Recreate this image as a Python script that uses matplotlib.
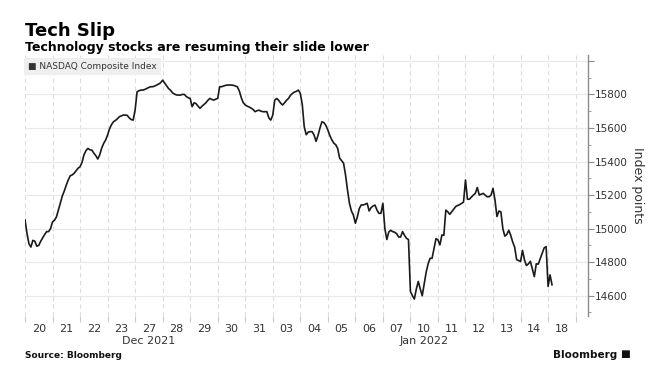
import numpy as np
import matplotlib.pyplot as plt
from matplotlib.ticker import FixedLocator, MultipleLocator, NullFormatter

# trading sessions shown on the axis
day_labels = ["20", "21", "22", "23", "27", "28", "29", "30", "31",
              "03", "04", "05", "06", "07", "10", "11", "12", "13", "14", "18"]
month_labels = ["Dec 2021", "Jan 2022"]
month_mid_day = [4, 14]          # session index the month label sits under
bars_per_session = 14           # 30-min bars, 9:30 .. 16:00

# NASDAQ Composite, 30-min bars, one row per session (last one partial)
nasdaq = [
    15052, 14972, 14910, 14890, 14930, 14925, 14895, 14900, 14925, 14945, 14965, 14982, 14982, 15000,
    15040, 15050, 15070, 15111, 15150, 15195, 15225, 15260, 15290, 15315, 15320, 15330, 15345, 15360,
    15369, 15395, 15440, 15465, 15478, 15470, 15468, 15450, 15435, 15415, 15440, 15480, 15508, 15528,
    15558, 15595, 15620, 15637, 15645, 15655, 15667, 15672, 15677, 15677, 15675, 15660, 15650, 15647,
    15707, 15816, 15822, 15826, 15826, 15830, 15836, 15842, 15846, 15846, 15850, 15856, 15862, 15870,
    15885, 15868, 15850, 15835, 15825, 15810, 15802, 15797, 15796, 15796, 15800, 15800, 15788, 15780,
    15776, 15727, 15750, 15745, 15730, 15717, 15730, 15740, 15750, 15765, 15776, 15770, 15766, 15772,
    15776, 15846, 15846, 15850, 15854, 15856, 15856, 15856, 15854, 15850, 15845, 15820, 15780, 15750,
    15737, 15730, 15725, 15718, 15710, 15697, 15703, 15706, 15700, 15697, 15697, 15697, 15660, 15647,
    15677, 15766, 15776, 15765, 15748, 15737, 15750, 15765, 15776, 15795, 15806, 15814, 15818, 15826,
    15806, 15740, 15607, 15560, 15575, 15578, 15578, 15558, 15520, 15555, 15600, 15637, 15632, 15615,
    15588, 15555, 15530, 15510, 15500, 15478, 15420, 15405, 15390, 15320, 15230, 15150, 15105, 15080,
    15032, 15070, 15120, 15141, 15141, 15145, 15151, 15105, 15125, 15135, 15140, 15110, 15091, 15091,
    15151, 15000, 14935, 14980, 14990, 14982, 14978, 14970, 14950, 14950, 14982, 14960, 14942, 14935,
    14625, 14600, 14580, 14640, 14685, 14640, 14600, 14670, 14740, 14790, 14823, 14823, 14880, 14940,
    14933, 14903, 14962, 14960, 15110, 15100, 15085, 15100, 15115, 15131, 15138, 15143, 15150, 15158,
    15290, 15175, 15175, 15188, 15200, 15210, 15245, 15200, 15205, 15210, 15200, 15190, 15190, 15200,
    15240, 15170, 15072, 15105, 15100, 15000, 14955, 14965, 14990, 14960, 14920, 14890, 14815, 14810,
    14804, 14870, 14813, 14780, 14790, 14805, 14760, 14714, 14790, 14788, 14820, 14853, 14885, 14893,
    14655, 14724, 14665,
]

y_ticks = [14600, 14800, 15000, 15200, 15400, 15600, 15800, 16000]

grid_col = "#e8e8e8"
axis_col = "#8c8c8c"
text_col = "#333333"

x = np.arange(len(nasdaq)) / bars_per_session

fig = plt.figure(figsize=(6.56, 3.74), dpi=100)
ax = fig.add_axes([25 / 656, 1 - 316 / 374, (588 - 25) / 656, (316 - 55) / 374])

ax.plot(x, nasdaq, color="#1a1a1a", lw=1.2, zorder=3)

ax.set_xlim(0, len(day_labels) + 0.45)
ax.set_ylim(14479, 16035)

# x: boundaries as ticks + dashed grid, labels centred in each session
ax.xaxis.set_major_locator(FixedLocator(np.arange(len(day_labels) + 1)))
ax.xaxis.set_major_formatter(NullFormatter())
ax.xaxis.set_minor_locator(FixedLocator(np.arange(len(day_labels)) + 0.5))
ax.set_xticklabels(day_labels, minor=True)
ax.tick_params(axis="x", which="major", length=4, color="#cccccc", direction="out")
ax.tick_params(axis="x", which="minor", length=0, pad=6, labelsize=8, labelcolor=text_col)
ax.grid(axis="x", which="major", color="#dddddd", lw=0.8, ls=(0, (4, 3)))

# y on the right
ax.yaxis.tick_right()
ax.yaxis.set_label_position("right")
ax.set_yticks(y_ticks)
ax.set_yticklabels([str(v) if v < 16000 else "" for v in y_ticks])
ax.yaxis.set_minor_locator(MultipleLocator(100))
ax.tick_params(axis="y", which="major", length=4, color=axis_col, labelsize=7.5,
               labelcolor=text_col, pad=1)
ax.tick_params(axis="y", which="minor", length=2, color=axis_col)
ax.grid(axis="y", which="major", color=grid_col, lw=0.8)
ax.set_ylabel("Index points", rotation=270, labelpad=12, fontsize=9, color=text_col)

for side in ["top", "left", "bottom"]:
    ax.spines[side].set_visible(False)
ax.spines["right"].set_color(axis_col)
ax.spines["right"].set_linewidth(1.0)

for lab, d in zip(month_labels, month_mid_day):
    ax.text(d + 0.5, -0.095, lab, transform=ax.get_xaxis_transform(),
            ha="center", va="center", fontsize=8, color=text_col)

# legend box
ax.text(0.006, 0.955, "\u25A0 NASDAQ Composite Index", transform=ax.transAxes,
        ha="left", va="center", fontsize=6.5, color=text_col,
        bbox=dict(boxstyle="square,pad=0.45", fc="#efefef", ec="none"), zorder=4)

fig.text(25 / 656, 1 - 31 / 374, "Tech Slip", fontsize=13, fontweight="bold",
         color="black", va="center", ha="left")
fig.text(25 / 656, 1 - 47 / 374, "Technology stocks are resuming their slide lower",
         fontsize=9, fontweight="bold", color="black", va="center", ha="left")
fig.text(25 / 656, 1 - 355 / 374, "Source: Bloomberg", fontsize=6.5,
         fontweight="bold", color="#111111", va="center", ha="left")
fig.text(617 / 656, 1 - 355 / 374, "Bloomberg", fontsize=7.5, fontweight="bold",
         color="#111111", va="center", ha="right")
fig.text(630 / 656, 1 - 354 / 374, "\u25A0", fontsize=7.5, color="#111111",
         va="center", ha="right")

fig.savefig("out.png", dpi=100)
